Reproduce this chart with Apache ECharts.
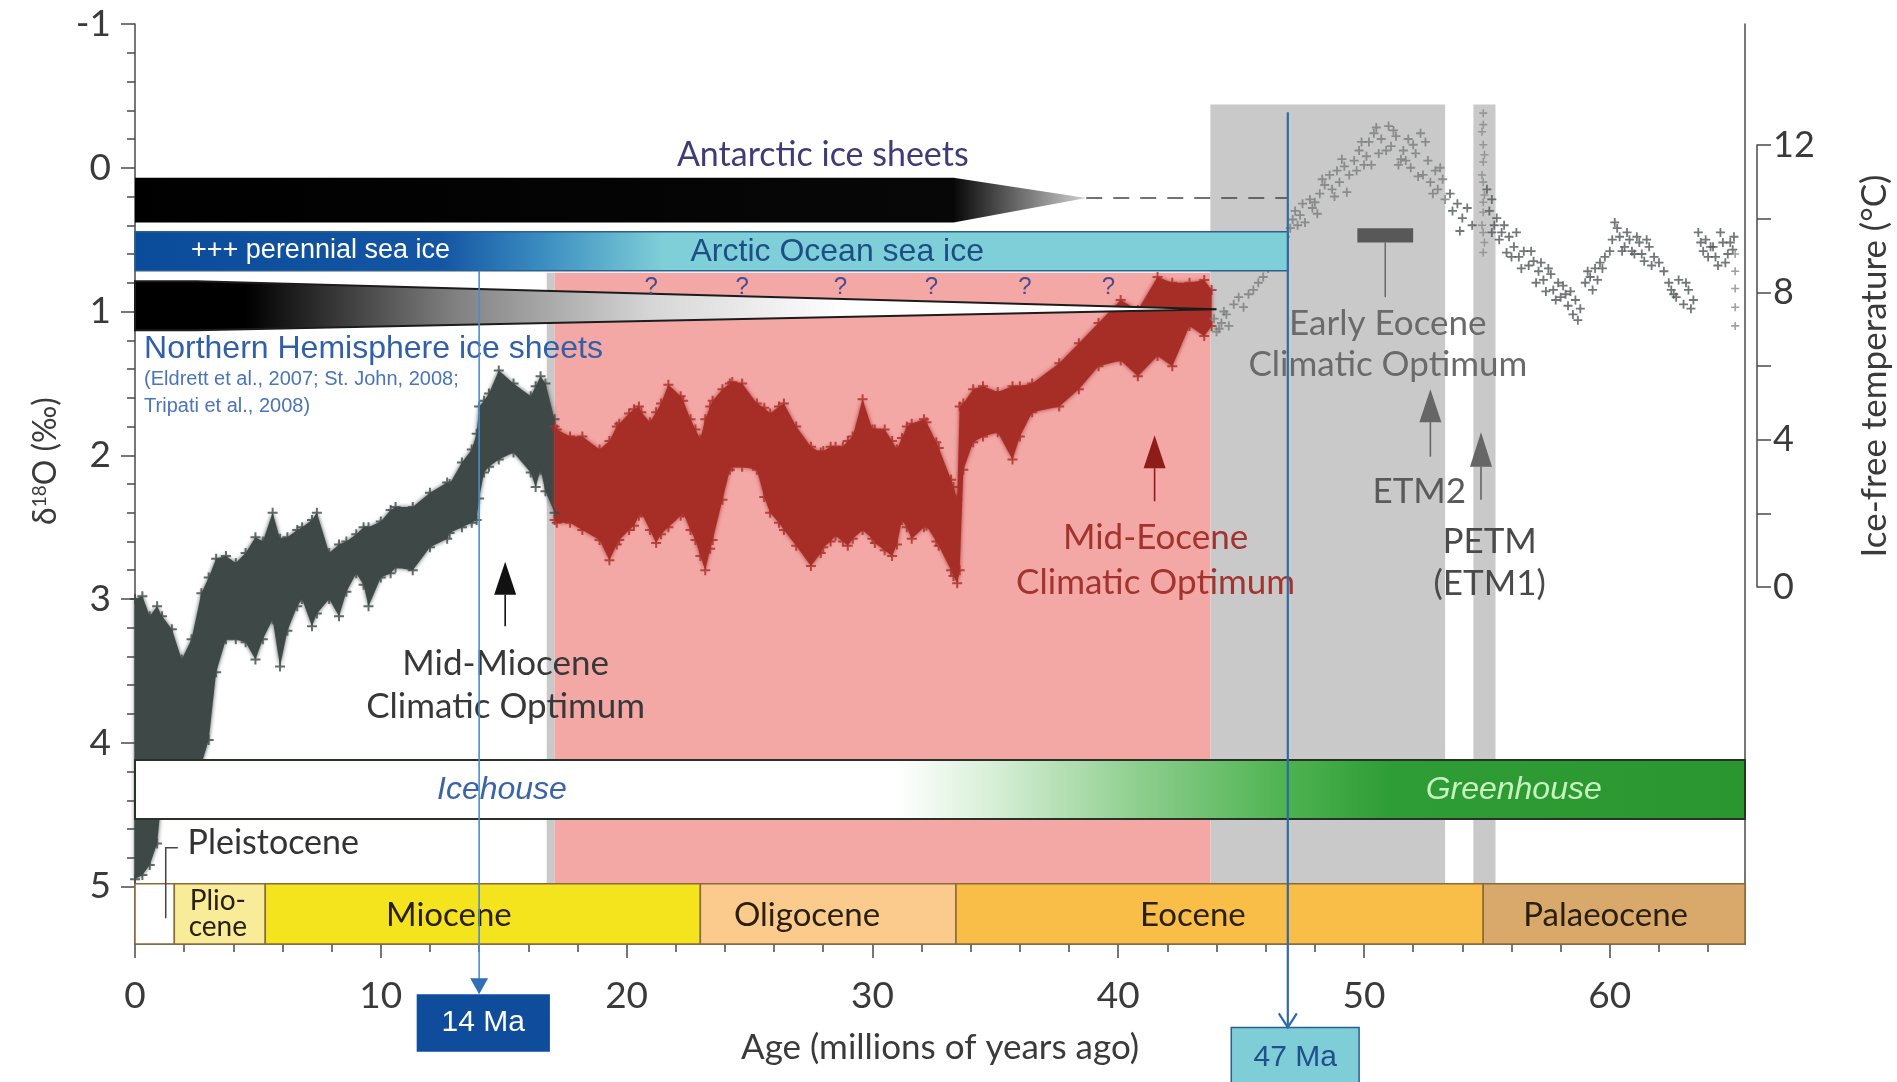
<!DOCTYPE html>
<html><head><meta charset="utf-8">
<script src="https://cdn.jsdelivr.net/npm/echarts@6/dist/echarts.min.js"></script>
<style>html,body{margin:0;padding:0;background:#fff}#chart{width:1897px;height:1082px}</style>
</head><body><div id="chart"></div>
<script>
// ---------------- DATA ----------------
// Axes (age in Ma, benthic δ18O in ‰, ice-free temperature in °C)
const ageTicks = [0, 10, 20, 30, 40, 50, 60];
const ageMinorTicks = [2,4,6,8,12,14,16,18,22,24,26,28,32,34,36,38,42,44,46,48,52,54,56,58,62,64];
const d18Ticks = [-1, 0, 1, 2, 3, 4, 5];
const d18MinorTicks = [-0.8,-0.6,-0.4,-0.2,0.2,0.4,0.6,0.8,1.2,1.4,1.6,1.8,2.2,2.4,2.6,2.8,3.2,3.4,3.6,3.8,4.2,4.4,4.6,4.8];
const tempTicks = [0, 2, 4, 6, 8, 10, 12];
const tempLabelTicks = [0, 4, 8, 12];

// Dense δ18O record 0–17 Ma (envelope of the point cloud)
const neogeneAge = [0.0,0.3,0.6,0.9,1.1,1.5,1.9,2.3,2.7,3.0,3.3,3.7,4.1,4.5,4.9,5.2,5.6,5.9,6.2,6.6,6.8,7.2,7.4,7.9,8.3,8.6,9.0,9.3,9.5,10.0,10.4,10.6,11.3,12.0,12.7,12.8,13.3,13.7,13.9,14.0,14.2,14.4,14.8,15.4,16.1,16.3,16.5,16.7,17.07];
const neogeneTop = [3.00,2.98,3.12,3.05,3.12,3.21,3.42,3.28,2.96,2.85,2.72,2.70,2.75,2.68,2.57,2.60,2.40,2.58,2.57,2.52,2.50,2.45,2.40,2.68,2.62,2.60,2.55,2.50,2.50,2.46,2.38,2.36,2.36,2.26,2.19,2.20,2.05,1.96,1.85,1.66,1.62,1.57,1.41,1.50,1.59,1.52,1.45,1.50,1.75];
const neogeneBottom = [4.95,4.92,4.85,4.70,4.35,4.20,4.15,4.15,4.15,3.98,3.51,3.28,3.28,3.30,3.42,3.28,3.14,3.47,3.22,3.05,3.00,3.19,3.10,3.00,3.12,2.95,2.82,2.90,3.05,2.85,2.82,2.78,2.80,2.64,2.58,2.54,2.50,2.47,2.45,2.30,2.12,2.08,2.03,1.98,2.12,2.22,2.10,2.25,2.40];

// Dense δ18O record 17–44 Ma (red)
const paleogeneAge = [17.07,17.16,17.7,18.2,18.9,19.3,19.6,19.7,20.1,20.3,20.5,20.6,20.95,21.2,21.4,21.7,22.2,22.3,22.6,22.8,23.0,23.2,23.4,23.5,23.9,24.2,24.3,24.7,25.3,25.6,25.84,26.2,26.4,26.9,27.5,27.9,28.0,28.3,28.5,28.8,29.0,29.2,29.6,30.0,30.1,30.5,30.8,31.0,31.2,31.4,31.6,32.1,32.2,32.6,32.7,33.2,33.3,33.45,33.55,33.7,34.1,34.5,35.1,35.7,36.0,36.5,37.6,38.4,39.2,40.1,40.8,41.6,42.2,42.9,43.5,43.8];
const paleogeneTop = [1.80,1.82,1.87,1.87,1.96,1.90,1.80,1.78,1.71,1.68,1.66,1.70,1.77,1.70,1.64,1.51,1.59,1.62,1.75,1.82,1.89,1.75,1.66,1.62,1.54,1.50,1.49,1.50,1.64,1.67,1.71,1.66,1.64,1.80,1.94,1.98,1.97,1.94,1.94,1.94,1.90,1.87,1.61,1.82,1.82,1.82,1.90,1.96,1.88,1.80,1.78,1.75,1.77,1.91,1.95,2.17,2.22,2.31,1.66,1.64,1.54,1.52,1.56,1.52,1.52,1.50,1.36,1.22,1.08,0.92,0.99,0.76,0.80,0.80,0.78,0.85];
const paleogeneBottom = [2.45,2.47,2.47,2.52,2.59,2.73,2.62,2.59,2.52,2.49,2.42,2.40,2.52,2.61,2.55,2.50,2.42,2.40,2.52,2.59,2.70,2.80,2.65,2.59,2.31,2.10,2.08,2.08,2.10,2.29,2.40,2.47,2.52,2.63,2.77,2.68,2.64,2.60,2.56,2.60,2.63,2.58,2.52,2.58,2.61,2.66,2.70,2.62,2.45,2.50,2.58,2.50,2.49,2.60,2.63,2.80,2.84,2.89,2.80,2.10,1.91,1.87,1.84,2.03,1.87,1.70,1.66,1.54,1.38,1.34,1.45,1.31,1.38,1.10,1.17,1.10];

// Sparse points, Early Eocene (44–53.3 Ma)
const eecoAge = [43.9,44.0,44.1,44.2,44.3,44.4,44.5,44.7,44.9,45.1,45.3,45.5,45.7,45.9,46.1,46.3,46.6,46.8,47.1,47.2,47.4,47.5,47.6,47.8,47.9,48.0,48.2,48.4,48.6,48.7,48.9,49.0,49.2,49.3,49.6,49.8,50.0,50.2,50.4,50.6,50.7,51.0,51.1,51.3,51.5,51.6,51.8,51.9,52.1,52.3,52.4,52.6,52.7,52.9,53.0,53.2,53.3,47.0,47.3,48.1,48.3,48.8,49.1,49.4,49.7,49.9,50.1,50.3,50.5,50.9,51.2,51.4,51.7,52.0,52.2,52.5,52.8,53.1];
const eecoD18 = [1.05,1.14,1.12,1.08,1.00,1.02,1.10,0.95,0.90,0.97,0.88,0.85,0.80,0.76,0.70,0.66,0.55,0.48,0.36,0.30,0.33,0.25,0.38,0.22,0.28,0.24,0.18,0.12,0.05,0.15,0.02,0.10,-0.01,0.17,-0.05,-0.12,-0.02,-0.18,-0.24,-0.10,-0.20,-0.29,-0.15,-0.22,-0.06,-0.12,-0.20,0.00,-0.10,-0.24,0.05,-0.05,0.10,0.02,0.15,0.08,0.22,0.42,0.40,0.32,0.08,0.20,-0.06,0.05,0.02,-0.18,-0.08,-0.02,-0.28,-0.12,-0.26,-0.02,-0.05,-0.16,0.06,-0.18,0.18,0.00];

// Sparse points, latest Palaeocene – earliest Eocene (53.3–65.5 Ma)
const lateAge = [53.5,53.6,53.8,53.9,54.0,54.2,54.4,55.1,55.2,55.3,55.4,55.5,55.6,55.8,55.9,56.1,56.3,56.5,56.7,56.9,57.1,57.3,57.5,57.7,57.9,58.0,58.2,58.3,58.5,58.6,58.7,59.0,59.1,59.3,59.4,59.6,59.8,60.0,60.2,60.4,60.6,60.8,61.0,61.2,61.4,61.6,61.8,62.4,62.6,62.8,63.0,63.2,63.4,63.6,63.8,64.0,64.2,64.4,64.6,64.8,65.0,55.0,55.2,55.7,56.0,56.2,56.4,56.8,57.0,57.2,57.4,57.6,57.8,58.1,58.4,58.8,59.2,59.5,59.7,60.1,60.3,60.5,60.7,60.9,61.1,61.3,61.5,61.7,62.0,62.2,62.5,62.7,63.1,63.3,63.7,63.9,64.1,64.3,64.5,64.7,64.9,65.05];
const lateD18 = [0.18,0.30,0.25,0.44,0.35,0.28,0.40,0.30,0.22,0.40,0.35,0.50,0.45,0.59,0.48,0.55,0.62,0.58,0.68,0.65,0.72,0.78,0.70,0.85,0.80,0.90,0.88,0.96,1.02,0.92,1.06,0.80,0.72,0.85,0.70,0.66,0.62,0.58,0.38,0.48,0.55,0.50,0.60,0.52,0.65,0.55,0.62,0.80,0.88,0.78,0.95,0.85,0.92,0.45,0.58,0.62,0.55,0.68,0.52,0.60,0.57,0.15,0.45,0.40,0.62,0.45,0.70,0.58,0.80,0.66,0.86,0.74,0.92,0.82,0.86,0.98,0.76,0.78,0.70,0.50,0.42,0.58,0.45,0.58,0.48,0.60,0.50,0.68,0.66,0.72,0.85,0.90,0.80,0.98,0.52,0.50,0.55,0.62,0.45,0.66,0.52,0.48];

// PETM excursion and faint streak at the base of the record
const petmAge = [54.85,54.85,54.8,54.85,54.9,54.85,54.8,54.85,54.9,54.85,54.85,54.8,54.85,54.9,54.85,65.1,65.1,65.1,65.1,65.1];
const petmD18 = [-0.38,-0.30,-0.25,-0.16,-0.09,-0.04,0.05,0.10,0.19,0.24,0.31,0.40,0.45,0.52,0.59,0.60,0.72,0.84,0.97,1.10];

// Shaded intervals (age range, δ18O range)
const shadeStart = [16.75, 17.07, 43.75, 54.45];
const shadeEnd = [17.07, 43.75, 53.3, 55.35];
const shadeTop = [0.73, 0.73, -0.44, -0.44];
const shadeBottom = [4.98, 4.98, 4.98, 4.98];
const shadeKind = ['grey', 'pink', 'grey', 'grey'];

// Epochs
const epochName = ['', 'Plio-', 'Miocene', 'Oligocene', 'Eocene', 'Palaeocene'];
const epochStart = [0, 1.6, 5.3, 23.0, 33.4, 54.85];
const epochEnd = [1.6, 5.3, 23.0, 33.4, 54.85, 65.5];
const epochLabelAge = [0, 3.37, 12.77, 27.34, 43.04, 59.83];
const epochBand = [4.98, 5.40];

// Ice and climate-state bands
const antarcticAge = [0, 33.3, 38.7, 33.3, 0];
const antarcticD18 = [0.07, 0.07, 0.21, 0.38, 0.38];
const antarcticDashAge = [38.7, 46.9];
const antarcticDashD18 = [0.21, 0.21];
const arcticAge = [0, 46.9];
const arcticD18 = [0.445, 0.716];
const nhAge = [0, 2.5, 44.0, 2.5, 0];
const nhD18 = [0.79, 0.79, 0.985, 1.13, 1.13];
const climateStateAge = [0, 65.5];
const climateStateD18 = [4.12, 4.53];
const questionAge = [21.0, 24.7, 28.7, 32.4, 36.2, 39.6];
const questionD18 = 0.83;
const eecoBarAge = [49.73, 52.0];
const eecoBarD18 = [0.42, 0.52, 0.90];
const pleistoBracketAge = [1.74, 1.25, 1.25];
const pleistoBracketD18 = [4.73, 4.73, 5.22];

// Event arrows: age, tip, head base, tail
const arrowAge = [15.06, 41.48, 52.7, 54.76];
const arrowTip = [2.74, 1.86, 1.54, 1.84];
const arrowBase = [2.97, 2.09, 1.77, 2.08];
const arrowTail = [3.19, 2.32, 2.01, 2.31];

// Text annotations
const noteText = ['Antarctic ice sheets','Arctic Ocean sea ice','+++ perennial sea ice','Northern Hemisphere ice sheets','(Eldrett et al., 2007; St. John, 2008;','Tripati et al., 2008)','Mid-Miocene','Climatic Optimum','Mid-Eocene','Climatic Optimum','Early Eocene','Climatic Optimum','ETM2','PETM','(ETM1)','Pleistocene','Icehouse','Greenhouse','cene'];
const noteAge = [27.98, 28.57, 2.28, 0.37, 0.37, 0.37, 15.08, 15.08, 41.52, 41.52, 50.97, 50.97, 52.25, 55.11, 55.11, 2.14, 14.93, 56.09, 3.37];
const noteD18 = [-0.09, 0.59, 0.573, 1.263, 1.47, 1.66, 3.45, 3.75, 2.576, 2.887, 1.086, 1.372, 2.256, 2.60, 2.895, 4.70, 4.33, 4.33, 5.28];

// Highlighted ages
const markAge = [14.0, 46.9];
const markLabel = ['14 Ma', '47 Ma'];
const markLineD18 = [[0.716, 5.75], [-0.386, 5.98]];
const markBoxAge = [[11.46, 16.88], [44.6, 49.8]];
const markBoxD18 = [[5.75, 6.15], [5.98, 6.45]];
const markLabelAge = [14.17, 47.2];
const markLabelD18 = [5.95, 6.19];

// ---------------- STYLE ----------------
const FONT = 'Lato, "Open Sans", "DejaVu Sans", sans-serif';
const ARIAL = '"Liberation Sans", Arial, sans-serif';
const axisColor = '#4a4a4a';
const shadeColors = { grey: '#c9c9c9', pink: '#f3a8a6' };
const epochColors = ['#ffffff', '#f8ec98', '#f4e41e', '#facb8d', '#f8be48', '#d9a96b'];
const arrowColors = ['#111111', '#8e1c18', '#666666', '#666666'];
const noteStyles = [
  {c:'#3f3a78', f:FONT, s:34, a:'center'},
  {c:'#1d4f86', f:ARIAL, s:32, a:'center'},
  {c:'#ffffff', f:ARIAL, s:27, a:'left'},
  {c:'#3160a8', f:ARIAL, s:32, a:'left'},
  {c:'#4a74b8', f:ARIAL, s:20, a:'left'},
  {c:'#4a74b8', f:ARIAL, s:20, a:'left'},
  {c:'#383838', f:FONT, s:35, a:'center'},
  {c:'#383838', f:FONT, s:35, a:'center'},
  {c:'#a3332d', f:FONT, s:35, a:'center'},
  {c:'#a3332d', f:FONT, s:35, a:'center'},
  {c:'#6a6a6a', f:FONT, s:35, a:'center'},
  {c:'#6a6a6a', f:FONT, s:35, a:'center'},
  {c:'#5a5a5a', f:FONT, s:35, a:'center'},
  {c:'#4a4a4a', f:FONT, s:35, a:'center'},
  {c:'#4a4a4a', f:FONT, s:35, a:'center'},
  {c:'#333333', f:FONT, s:34, a:'left'},
  {c:'#3a64a8', f:ARIAL, s:32, a:'center', i:true},
  {c:'#c6f3bf', f:ARIAL, s:32, a:'center', i:true},
  {c:'#2b2010', f:FONT, s:28, a:'center'}
];
const PLUS = 'path://M4,0H6V4H10V6H6V10H4V6H0V4H4Z';

// ---------------- HELPERS ----------------
function gradX(api, a0, a1, stops) {
  const x0 = api.coord([a0, 0])[0], x1 = api.coord([a1, 0])[0];
  return new echarts.graphic.LinearGradient(x0, 0, x1, 0,
    stops.map(s => ({ offset: (s[0] - a0) / (a1 - a0), color: s[1] })), true);
}
function rectOf(api, a0, a1, d0, d1) {
  const p0 = api.coord([a0, d0]), p1 = api.coord([a1, d1]);
  return { x: Math.min(p0[0], p1[0]), y: Math.min(p0[1], p1[1]), width: Math.abs(p1[0] - p0[0]), height: Math.abs(p1[1] - p0[1]) };
}
function band(api, age, top, bot) {
  const pts = [];
  for (let i = 0; i < age.length; i++) pts.push(api.coord([age[i], top[i]]));
  for (let i = age.length - 1; i >= 0; i--) pts.push(api.coord([age[i], bot[i]]));
  return pts;
}
function layer(name, z, build) {
  return { type: 'custom', name, z, silent: true, clip: false, xAxisIndex: 0, yAxisIndex: 0,
    data: [[0, 0]], renderItem: (params, api) => ({ type: 'group', children: build(api) }) };
}
function pts(ages, vals) { return ages.map((a, i) => [a, vals[i]]); }
function text(api, a, d, t, st) {
  const p = api.coord([a, d]);
  return { type: 'text', x: p[0], y: p[1], style: { text: t, fill: st.c, fontSize: st.s, fontFamily: st.f,
    fontStyle: st.i ? 'italic' : 'normal', align: st.a, verticalAlign: 'middle' } };
}

// ---------------- SERIES ----------------
const shading = layer('shading', 1, api => shadeStart.map((s, i) => ({
  type: 'rect', shape: rectOf(api, shadeStart[i], shadeEnd[i], shadeTop[i], shadeBottom[i]),
  style: { fill: shadeColors[shadeKind[i]] } })));

const cloud = layer('cloud', 2, api => [
  { type: 'polygon', shape: { points: band(api, neogeneAge, neogeneTop, neogeneBottom) },
    style: { fill: '#3e4947', shadowBlur: 4, shadowColor: 'rgba(62,73,71,0.9)' } },
  { type: 'polygon', shape: { points: band(api, paleogeneAge, paleogeneTop, paleogeneBottom) },
    style: { fill: '#a72e27', shadowBlur: 4, shadowColor: 'rgba(167,46,39,0.9)' } }
]);

function crossSeries(data, color, size, z) {
  return { type: 'scatter', xAxisIndex: 0, yAxisIndex: 0, z, silent: true, symbol: PLUS, symbolSize: size,
    itemStyle: { color }, data };
}

const bars = layer('bars', 4, api => {
  const ch = [];
  ch.push({ type: 'polygon', shape: { points: antarcticAge.map((a, i) => api.coord([a, antarcticD18[i]])) },
    style: { fill: gradX(api, 0, 38.7, [[0, '#000'], [33.3, '#070707'], [35.5, '#5a5a5a'], [38.7, '#d0d0d0']]) } });
  ch.push({ type: 'polyline', shape: { points: antarcticDashAge.map((a, i) => api.coord([a, antarcticDashD18[i]])) },
    style: { stroke: '#444', lineWidth: 1.6, lineDash: [16, 11], fill: null } });
  ch.push({ type: 'rect', shape: rectOf(api, arcticAge[0], arcticAge[1], arcticD18[0], arcticD18[1]),
    style: { fill: gradX(api, 0, 46.9, [[0, '#0b4c9a'], [12.5, '#1456a3'], [16.5, '#3a8cc0'], [21.5, '#7fcfd8'], [46.9, '#7ecfd8']]),
      stroke: '#2a5f8e', lineWidth: 1.5 } });
  ch.push({ type: 'polygon', shape: { points: nhAge.map((a, i) => api.coord([a, nhD18[i]])) },
    style: { fill: gradX(api, 0, 44, [[0, '#000'], [4.5, '#000'], [13, '#808080'], [21, '#d6d6d6'], [29, '#ffffff'], [44, '#ffffff']]),
      stroke: '#1c1c1c', lineWidth: 2 } });
  ch.push({ type: 'rect', shape: rectOf(api, climateStateAge[0], climateStateAge[1], climateStateD18[0], climateStateD18[1]),
    style: { fill: gradX(api, 0, 65.5, [[0, '#fff'], [31, '#fff'], [35, '#d6eed6'], [41, '#8ccd8c'], [47, '#4cb24f'], [51, '#2f9d35'], [65.5, '#2a962f']]),
      stroke: '#263326', lineWidth: 2 } });
  epochStart.forEach((s, i) => {
    ch.push({ type: 'rect', shape: rectOf(api, epochStart[i], epochEnd[i], epochBand[0], epochBand[1]),
      style: { fill: epochColors[i], stroke: '#8a6a3a', lineWidth: 1.5 } });
    if (epochName[i]) ch.push(text(api, epochLabelAge[i], i === 1 ? 5.10 : 5.20, epochName[i],
      { c: '#2b2010', f: FONT, s: i === 1 ? 28 : 33, a: 'center' }));
  });
  ch.push({ type: 'polyline', shape: { points: pleistoBracketAge.map((a, i) => api.coord([a, pleistoBracketD18[i]])) },
    style: { stroke: '#444', lineWidth: 1.5, fill: null } });
  ch.push({ type: 'rect', shape: rectOf(api, eecoBarAge[0], eecoBarAge[1], eecoBarD18[0], eecoBarD18[1]), style: { fill: '#585858' } });
  const mid = (eecoBarAge[0] + eecoBarAge[1]) / 2;
  ch.push({ type: 'polyline', shape: { points: [api.coord([mid, eecoBarD18[1]]), api.coord([mid, eecoBarD18[2]])] },
    style: { stroke: '#666', lineWidth: 1.5, fill: null } });
  return ch;
});

const notes = layer('notes', 5, api => {
  const ch = [];
  noteText.forEach((t, i) => ch.push(text(api, noteAge[i], noteD18[i], t, noteStyles[i])));
  questionAge.forEach(a => ch.push(text(api, a, questionD18, '?', { c: '#4a4a8c', f: ARIAL, s: 24, a: 'center' })));
  arrowAge.forEach((a, i) => {
    const tip = api.coord([a, arrowTip[i]]), base = api.coord([a, arrowBase[i]]), tail = api.coord([a, arrowTail[i]]);
    ch.push({ type: 'polygon', shape: { points: [tip, [base[0] - 11, base[1]], [base[0] + 11, base[1]]] }, style: { fill: arrowColors[i] } });
    ch.push({ type: 'polyline', shape: { points: [base, tail] }, style: { stroke: arrowColors[i], lineWidth: 1.6, fill: null } });
  });
  return ch;
});

const marks = layer('marks', 6, api => {
  const ch = [];
  markAge.forEach((a, i) => {
    const top = api.coord([a, markLineD18[i][0]]), tip = api.coord([a, markLineD18[i][1]]);
    const color = i === 0 ? '#4d8ccb' : '#2e6aa6';
    ch.push({ type: 'rect', shape: rectOf(api, markBoxAge[i][0], markBoxAge[i][1], markBoxD18[i][0], markBoxD18[i][1]),
      style: i === 0 ? { fill: '#0f4d9c' } : { fill: '#7fcdd6', stroke: '#2a5f8a', lineWidth: 1.5 } });
    ch.push({ type: 'polyline', shape: { points: [top, i === 0 ? [tip[0], tip[1] - 14] : tip] }, style: { stroke: color, lineWidth: i === 0 ? 1.6 : 2.2, fill: null } });
    if (i === 0) {
      ch.push({ type: 'polygon', shape: { points: [tip, [tip[0] - 9, tip[1] - 16], [tip[0] + 9, tip[1] - 16]] }, style: { fill: '#2f6fb5' } });
    } else {
      ch.push({ type: 'polyline', shape: { points: [[tip[0] - 9, tip[1] - 14], tip, [tip[0] + 9, tip[1] - 14]] }, style: { stroke: color, lineWidth: 2.2, fill: null } });
    }
    ch.push(text(api, markLabelAge[i], markLabelD18[i], markLabel[i], { c: i === 0 ? '#ffffff' : '#1f4f8c', f: ARIAL, s: 30, a: 'center' }));
  });
  return ch;
});

// ---------------- CHART ----------------
const tickStyle = { color: axisColor, width: 1.5 };
const option = {
  animation: false,
  backgroundColor: '#ffffff',
  grid: [
    { left: 135, top: 24, right: 152, bottom: 138 },
    { left: 1740, top: 145, width: 17, height: 442 }
  ],
  xAxis: [
    { gridIndex: 0, type: 'value', min: 0, max: 65.5, position: 'bottom',
      axisLine: { show: true, onZero: false, lineStyle: tickStyle },
      axisTick: { show: true, customValues: ageTicks, length: 14, lineStyle: tickStyle },
      axisLabel: { customValues: ageTicks, margin: 34, fontSize: 37, color: '#3a3a3a', fontFamily: FONT },
      splitLine: { show: false },
      name: 'Age (millions of years ago)', nameLocation: 'middle', nameGap: 86,
      nameTextStyle: { fontSize: 35, color: '#3a3a3a', fontFamily: FONT } },
    { gridIndex: 0, type: 'value', min: 0, max: 65.5, position: 'bottom',
      axisLine: { show: false, onZero: false },
      axisTick: { show: true, customValues: ageMinorTicks, length: 8, lineStyle: tickStyle },
      axisLabel: { show: false }, splitLine: { show: false } },
    { gridIndex: 1, type: 'value', min: 0, max: 1, show: false }
  ],
  yAxis: [
    { gridIndex: 0, type: 'value', inverse: true, min: -1, max: 5.4, position: 'left',
      axisLine: { show: true, onZero: false, lineStyle: tickStyle },
      axisTick: { show: true, customValues: d18Ticks, length: 14, lineStyle: tickStyle },
      axisLabel: { customValues: d18Ticks, margin: 24, fontSize: 37, color: '#3a3a3a', fontFamily: FONT },
      splitLine: { show: false } },
    { gridIndex: 0, type: 'value', inverse: true, min: -1, max: 5.4, position: 'left',
      axisLine: { show: false, onZero: false },
      axisTick: { show: true, customValues: d18MinorTicks, length: 8, lineStyle: tickStyle },
      axisLabel: { show: false }, splitLine: { show: false } },
    { gridIndex: 0, type: 'value', min: 0, max: 1, position: 'right',
      axisLine: { show: true, onZero: false, lineStyle: tickStyle },
      axisTick: { show: false }, axisLabel: { show: false }, splitLine: { show: false } },
    { gridIndex: 1, type: 'value', min: 0, max: 12, position: 'right',
      axisLine: { show: true, onZero: false, lineStyle: tickStyle },
      axisTick: { show: true, customValues: tempTicks, length: 14, lineStyle: tickStyle },
      axisLabel: { customValues: tempLabelTicks, margin: 16, fontSize: 36, color: '#3a3a3a', fontFamily: FONT },
      splitLine: { show: false },
      name: 'Ice-free temperature (°C)', nameLocation: 'middle', nameRotate: 90, nameGap: 100,
      nameTextStyle: { fontSize: 35, color: '#3a3a3a', fontFamily: FONT } }
  ],
  graphic: [{
    type: 'text', x: 46, y: 461, rotation: Math.PI / 2,
    style: { text: '{d|δ}{s|18}{d|O (‰)}', align: 'center', verticalAlign: 'middle',
      rich: { d: { fontSize: 32, fontFamily: FONT, fill: '#3a3a3a' }, s: { fontSize: 19, fontFamily: FONT, fill: '#3a3a3a', verticalAlign: 'top' } } }
  }],
  series: [
    shading,
    cloud,
    crossSeries(pts(neogeneAge, neogeneTop).concat(pts(neogeneAge, neogeneBottom)), '#3e4947', 10, 3),
    crossSeries(pts(paleogeneAge, paleogeneTop).concat(pts(paleogeneAge, paleogeneBottom)), '#a72e27', 10, 3),
    crossSeries(pts(eecoAge, eecoD18), '#7a7d7d', 9, 3),
    crossSeries(pts(lateAge, lateD18), '#4e5655', 9, 3),
    crossSeries(pts(petmAge, petmD18), '#8a8a8a', 8, 3),
    bars,
    notes,
    marks
  ]
};
const chart = echarts.init(document.getElementById('chart'), null, { renderer: 'canvas', width: 1897, height: 1082 });
chart.setOption(option);
</script></body></html>
